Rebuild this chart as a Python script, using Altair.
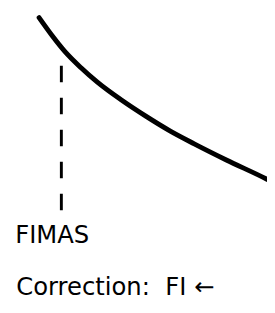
import altair as alt
import pandas as pd

# Curve (arbitrary units, x to the right, y upward)
curve_x = [1.20, 1.70, 2.20, 2.82, 3.45, 4.38, 5.32, 6.25, 7.19, 8.43, 10.0, 10.15]
curve_y = [9.82, 9.20, 8.64, 8.08, 7.58, 6.96, 6.40, 5.89, 5.44, 4.88, 4.21, 4.14]

# Dashed marker line
marker_x = [2.06, 2.06]
marker_y = [8.15, 3.13]

# Labels
label_text = ["FIMAS", "Correction:\u00a0\u00a0FI\u00a0\u2190"]
label_x = [0.28, 0.32]
label_y = [1.99, 0.20]

curve_df = pd.DataFrame({"x": curve_x, "y": curve_y, "o": list(range(len(curve_x)))})
marker_df = pd.DataFrame({"x": marker_x, "y": marker_y, "o": [0, 1]})
label_df = pd.DataFrame({"x": label_x, "y": label_y, "t": label_text})

xs = alt.Scale(domain=[0, 10], nice=False, zero=False)
ys = alt.Scale(domain=[0, 10], nice=False, zero=False)

curve = alt.Chart(curve_df).mark_line(
    color="black", strokeWidth=5, strokeCap="round", interpolate="monotone", clip=True
).encode(
    x=alt.X("x:Q", scale=xs, axis=None),
    y=alt.Y("y:Q", scale=ys, axis=None),
    order="o:Q",
)

marker = alt.Chart(marker_df).mark_line(
    color="black", strokeWidth=3, strokeDash=[17, 16]
).encode(
    x=alt.X("x:Q", scale=xs, axis=None),
    y=alt.Y("y:Q", scale=ys, axis=None),
    order="o:Q",
)

labels = alt.Chart(label_df).mark_text(
    align="left", baseline="alphabetic", font="DejaVu Sans", fontSize=25, color="black"
).encode(
    x=alt.X("x:Q", scale=xs, axis=None),
    y=alt.Y("y:Q", scale=ys, axis=None),
    text="t:N",
)

chart = alt.layer(curve, marker, labels).properties(
    width=267, height=297, padding=0
).configure_view(stroke=None)

chart.save("out.html", embed_options={"renderer": "svg", "actions": False})
